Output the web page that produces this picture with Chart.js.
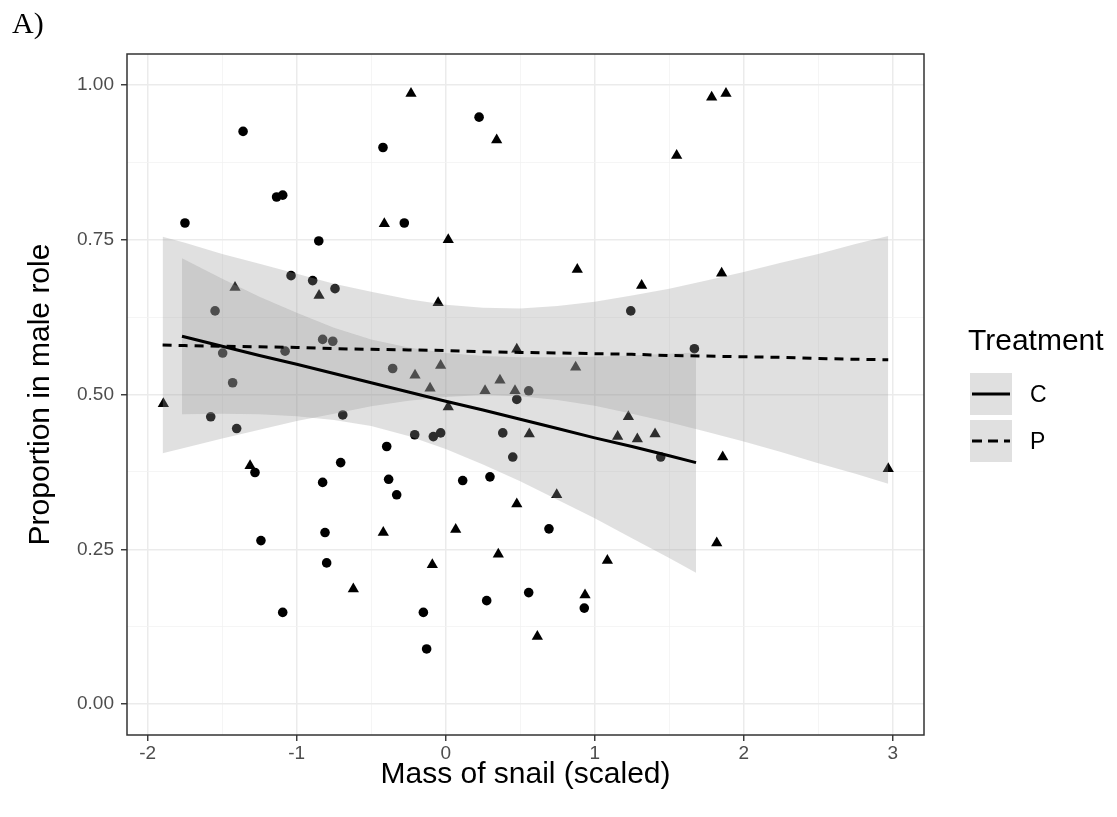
<!DOCTYPE html>
<html>
<head>
<meta charset="utf-8">
<script src="https://cdn.jsdelivr.net/npm/chart.js@4.4.1/dist/chart.umd.min.js"></script>
<style>
  html, body { margin: 0; padding: 0; background: #fff; }
</style>
</head>
<body>
<canvas id="myChart" width="1117" height="817"></canvas>
<script>
const ctx = document.getElementById('myChart');

// snails, control treatment (circles)
const massC = [-1.360, -0.421, -1.135, -1.094, -1.750, -0.278, -0.852, -1.038, -0.893, -0.743,
  0.224, -1.548, -0.826, -0.758, -1.497, -1.078, -1.430, -0.356, -1.577, -0.691,
  -1.403, -0.208, -0.396, -1.280, -0.705, -0.826, -0.383, -0.329, 1.242, 1.669,
  0.557, 0.477, -0.083, -0.034, 0.383, 0.450, 1.443, 0.114, 0.297, -0.810,
  -1.240, -0.799, -1.094, -0.150, 0.693, 0.557, 0.275, 0.930, -0.128];
const propC = [0.925, 0.899, 0.819, 0.822, 0.777, 0.777, 0.748, 0.692, 0.684, 0.671,
  0.948, 0.635, 0.589, 0.586, 0.567, 0.570, 0.519, 0.542, 0.464, 0.467,
  0.445, 0.435, 0.416, 0.374, 0.390, 0.358, 0.363, 0.338, 0.635, 0.574,
  0.506, 0.492, 0.432, 0.438, 0.438, 0.399, 0.399, 0.361, 0.367, 0.277,
  0.264, 0.228, 0.148, 0.148, 0.283, 0.180, 0.167, 0.155, 0.089];

// snails, P treatment (triangles)
const massP = [-0.233, -0.412, -1.414, -0.850, 0.342, 1.785, 1.881, 1.550, 0.017, 0.883,
  1.315, 1.852, -0.051, -0.206, -1.895, -1.313, 0.477, -0.034, 0.872, 0.364,
  -0.105, 0.264, 0.465, 0.017, 0.561, 1.226, 1.154, 1.286, 1.405, 0.745,
  0.477, 1.859, 2.970, -0.419, -0.620, 0.067, 1.819, 0.353, -0.090, 1.085,
  0.935, 0.615];
const propP = [0.986, 0.776, 0.673, 0.660, 0.911, 0.980, 0.986, 0.886, 0.750, 0.702,
  0.676, 0.696, 0.648, 0.531, 0.485, 0.385, 0.573, 0.547, 0.544, 0.523,
  0.510, 0.506, 0.506, 0.480, 0.436, 0.464, 0.432, 0.428, 0.436, 0.338,
  0.323, 0.399, 0.380, 0.277, 0.186, 0.282, 0.260, 0.242, 0.225, 0.232,
  0.176, 0.109];

// smooth fits with 95% band
const fitMassC = [-1.77, -1.5, -1.25, -1, -0.75, -0.5, -0.25, 0, 0.25, 0.5, 0.75, 1, 1.25, 1.5, 1.68];
const fitC  = [0.594, 0.578, 0.563, 0.549, 0.534, 0.519, 0.504, 0.489, 0.475, 0.460, 0.445, 0.430, 0.416, 0.401, 0.390];
const lowC  = [0.468, 0.469, 0.468, 0.465, 0.459, 0.449, 0.433, 0.412, 0.387, 0.360, 0.330, 0.300, 0.268, 0.236, 0.212];
const highC = [0.720, 0.687, 0.658, 0.632, 0.608, 0.589, 0.576, 0.567, 0.562, 0.560, 0.560, 0.561, 0.563, 0.566, 0.568];

const fitMassP = [-1.9, -1.75, -1.5, -1.25, -1, -0.75, -0.5, -0.25, 0, 0.25, 0.5, 0.75, 1, 1.25, 1.5, 1.75, 2, 2.25, 2.5, 2.75, 2.97];
const fitP  = [0.580, 0.579, 0.578, 0.577, 0.576, 0.574, 0.573, 0.572, 0.571, 0.569, 0.568, 0.567, 0.566, 0.565, 0.563, 0.562, 0.561, 0.560, 0.558, 0.557, 0.556];
const lowP  = [0.405, 0.414, 0.429, 0.443, 0.457, 0.469, 0.481, 0.490, 0.496, 0.499, 0.497, 0.491, 0.482, 0.469, 0.455, 0.440, 0.424, 0.407, 0.389, 0.372, 0.356];
const highP = [0.755, 0.745, 0.727, 0.711, 0.695, 0.679, 0.666, 0.654, 0.645, 0.640, 0.639, 0.643, 0.650, 0.660, 0.671, 0.684, 0.698, 0.713, 0.727, 0.743, 0.756];

const xTicks = [-2, -1, 0, 1, 2, 3];
const yTicks = [0, 0.25, 0.5, 0.75, 1];
const yTickLabels = ['0.00', '0.25', '0.50', '0.75', '1.00'];
const treatments = ['C', 'P'];

const BAND = 'rgba(153,153,153,0.3)';
const FONT = '"Liberation Sans", Arial, sans-serif';

document.addEventListener('DOMContentLoaded', function () {
  chartDraw();
});

function pts(xs, ys) {
  var out = [];
  for (var i = 0; i < xs.length; i++) {
    out.push({ x: xs[i], y: ys[i] });
  }
  return out;
}

// major ticks plus the half-way minor grid lines
function withMinor(major) {
  var out = [];
  var step = major[1] - major[0];
  for (var i = 0; i < major.length; i++) {
    out.push(major[i]);
    if (i < major.length - 1) out.push(major[i] + step / 2);
  }
  return out;
}

function isMajor(list, v) {
  for (var i = 0; i < list.length; i++) {
    if (Math.abs(list[i] - v) < 1e-9) return i;
  }
  return -1;
}

const extras = {
  id: 'extras',
  afterDraw(chart) {
    const c = chart.ctx;
    const a = chart.chartArea;
    c.save();

    c.strokeStyle = '#333333';
    c.lineWidth = 1.5;
    c.strokeRect(a.left, a.top, a.right - a.left, a.bottom - a.top);

    c.fillStyle = '#000';
    c.textBaseline = 'alphabetic';
    c.textAlign = 'left';
    c.font = '30px "Liberation Serif", "Times New Roman", serif';
    c.fillText('A)', 12, 33);

    c.font = '30px ' + FONT;
    c.textAlign = 'center';
    c.textBaseline = 'middle';
    c.fillText('Mass of snail (scaled)', (a.left + a.right) / 2, 775);

    c.save();
    c.translate(41, (a.top + a.bottom) / 2);
    c.rotate(-Math.PI / 2);
    c.fillText('Proportion in male role', 0, 0);
    c.restore();

    // legend
    c.textAlign = 'left';
    c.fillText('Treatment', 968, 342);
    c.font = '23px ' + FONT;
    for (var i = 0; i < treatments.length; i++) {
      var top = 373 + i * 47;
      c.fillStyle = BAND;
      c.fillRect(970, top, 42, 42);
      c.strokeStyle = '#000';
      c.lineWidth = 3;
      c.setLineDash(i === 0 ? [] : [10, 6]);
      c.beginPath();
      c.moveTo(972, top + 21);
      c.lineTo(1010, top + 21);
      c.stroke();
      c.setLineDash([]);
      c.fillStyle = '#000';
      c.fillText(treatments[i], 1030, top + 23);
    }
    c.restore();
  }
};

function gridOpts(major) {
  return {
    color: function (g) { return isMajor(major, g.tick.value) >= 0 ? '#EBEBEB' : '#F3F3F3'; },
    lineWidth: function (g) { return isMajor(major, g.tick.value) >= 0 ? 1.5 : 0.8; },
    tickColor: function (g) { return isMajor(major, g.tick.value) >= 0 ? '#333333' : 'rgba(0,0,0,0)'; },
    tickLength: 6,
    tickWidth: 1.4,
    drawTicks: true
  };
}

function chartDraw() {
  Chart.defaults.font.family = FONT;

  new Chart(ctx, {
    type: 'scatter',
    data: {
      datasets: [
        { label: 'C points', data: pts(massC, propC), pointStyle: 'circle', pointRadius: 4.8,
          backgroundColor: '#000', borderWidth: 0, order: 3 },
        { label: 'P points', data: pts(massP, propP), pointStyle: 'triangle', pointRadius: 6.5,
          backgroundColor: '#000', borderWidth: 0, order: 3 },
        { label: 'C low', data: pts(fitMassC, lowC), showLine: true, pointRadius: 0,
          borderColor: 'rgba(0,0,0,0)', borderWidth: 0, fill: false, order: 2 },
        { label: 'C high', data: pts(fitMassC, highC), showLine: true, pointRadius: 0,
          borderColor: 'rgba(0,0,0,0)', borderWidth: 0, backgroundColor: BAND, fill: '-1', order: 2 },
        { label: 'P low', data: pts(fitMassP, lowP), showLine: true, pointRadius: 0,
          borderColor: 'rgba(0,0,0,0)', borderWidth: 0, fill: false, order: 2 },
        { label: 'P high', data: pts(fitMassP, highP), showLine: true, pointRadius: 0,
          borderColor: 'rgba(0,0,0,0)', borderWidth: 0, backgroundColor: BAND, fill: '-1', order: 2 },
        { label: 'C', data: pts(fitMassC, fitC), showLine: true, pointRadius: 0,
          borderColor: '#000', borderWidth: 3, fill: false, order: 1 },
        { label: 'P', data: pts(fitMassP, fitP), showLine: true, pointRadius: 0,
          borderColor: '#000', borderWidth: 3, borderDash: [9, 7], fill: false, order: 1 }
      ]
    },
    options: {
      responsive: false,
      animation: false,
      events: [],
      layout: { padding: { left: 0, top: 54, right: 193, bottom: 0 } },
      plugins: {
        legend: { display: false },
        tooltip: { enabled: false }
      },
      scales: {
        x: {
          type: 'linear',
          min: -2.139,
          max: 3.21,
          afterBuildTicks: function (axis) {
            axis.ticks = withMinor(xTicks).map(function (v) { return { value: v }; });
          },
          afterFit: function (axis) { axis.height = 82; },
          border: { display: false },
          grid: gridOpts(xTicks),
          ticks: {
            autoSkip: false,
            maxRotation: 0,
            padding: 1,
            color: '#4D4D4D',
            font: { size: 19 },
            callback: function (v) { return isMajor(xTicks, v) >= 0 ? String(v) : ''; }
          }
        },
        y: {
          type: 'linear',
          min: -0.05,
          max: 1.05,
          afterBuildTicks: function (axis) {
            axis.ticks = withMinor(yTicks).map(function (v) { return { value: v }; });
          },
          afterFit: function (axis) { axis.width = 127; },
          border: { display: false },
          grid: gridOpts(yTicks),
          ticks: {
            autoSkip: false,
            padding: 7,
            color: '#4D4D4D',
            font: { size: 19 },
            callback: function (v) {
              var k = isMajor(yTicks, v);
              return k >= 0 ? yTickLabels[k] : '';
            }
          }
        }
      }
    },
    plugins: [extras]
  });
}
</script>
</body>
</html>
